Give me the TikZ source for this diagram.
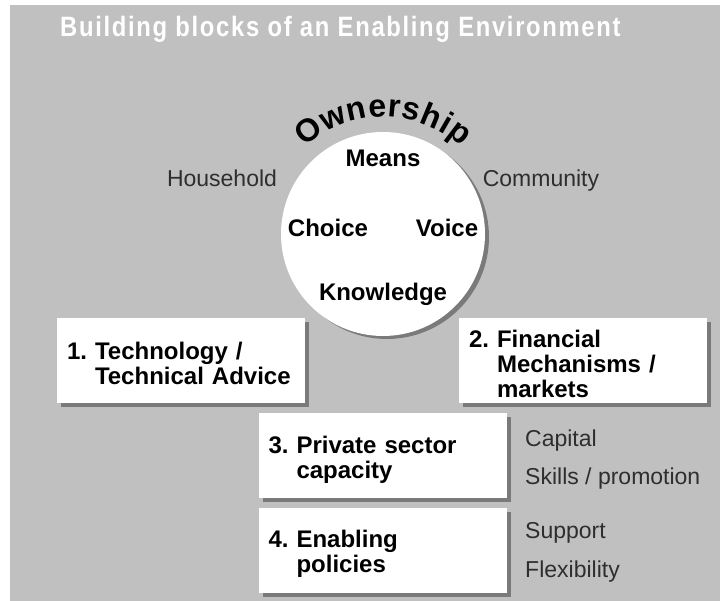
\documentclass[tikz,border=0pt]{standalone}
\usepackage{fontspec}
\setmainfont{Liberation Sans}
\newfontfamily\headfont{Liberation Sans}[FakeStretch=0.85,LetterSpace=6]
\usetikzlibrary{shadows,decorations.text}

\definecolor{panel}{HTML}{C0C0C0}
\definecolor{shade}{HTML}{7A7A7A}
\definecolor{darktext}{HTML}{2E2E2E}

\tikzset{
  block/.style={fill=white, minimum width=248pt, minimum height=85pt,
    text width=228pt, inner xsep=10pt, align=left,
    execute at begin node={\rule{0pt}{24pt}},
    font=\bfseries\fontsize{24}{25}\selectfont,
    drop shadow={shadow xshift=4pt, shadow yshift=-4pt, fill=shade, opacity=1}},
  word/.style={anchor=base, font=\bfseries\fontsize{24}{25}\selectfont},
  side/.style={anchor=base, text=darktext, font=\fontsize{23}{24}\selectfont},
  note/.style={side, anchor=base west, inner xsep=0pt}
}

\begin{document}
\begin{tikzpicture}[x=1pt,y=1pt]
\useasboundingbox (0,0) rectangle (720,601);
\fill[panel] (10,0) rectangle (720,596);

\node (title) [anchor=base west, text=white, inner sep=0pt,
  font=\headfont\bfseries\fontsize{28}{28}\selectfont] at (60,564)
  {Building blocks of an Enabling Environment};

% the ownership circle
\node (hub) [circle, fill=white, minimum size=204pt, inner sep=0pt,
  drop shadow={shadow xshift=4pt, shadow yshift=-3pt, fill=shade, opacity=1}]
  at (383,367) {};
\path [decorate, decoration={text along path,
    text={|\bfseries\fontsize{32}{32}\selectfont|Ownership},
    text align=fit to path}]
  ([shift={(132:117)}]hub.center) arc[start angle=132, end angle=48, radius=117];

\node (means) [word] at (383,434) {Means};
\node (choice) [word] at (328,364) {Choice};
\node (voice) [word] at (447,364) {Voice};
\node (knowledge) [word] at (383,300) {Knowledge};

\node (household) [side] at (222,414) {Household};
\node (community) [side] at (541,414) {Community};

% building blocks
\node (tech) [block] at (181,240.5)
  {1.~Technology /\\\hphantom{1.~}Technical Advice};
\node (finance) [block] at (583,240.5)
  {2.~Financial\\\hphantom{2.~}Mechanisms /\\\hphantom{2.~}markets};
\node (private) [block] at (382.5,145)
  {3.~Private sector\\\hphantom{3.~}capacity};
\node (policy) [block] at (382.5,50.5)
  {4.~Enabling\\\hphantom{4.~}policies};

\node (capital) [note] at (525,154) {Capital};
\node (skills) [note] at (525,116) {Skills / promotion};
\node (support) [note] at (525,62) {Support};
\node (flex) [note] at (525,23) {Flexibility};
\end{tikzpicture}
\end{document}
